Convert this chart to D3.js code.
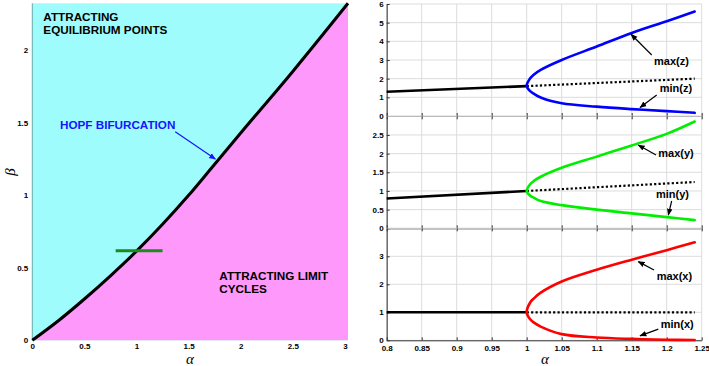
<!DOCTYPE html>
<html>
<head>
<meta charset="utf-8">
<script src="https://cdn.jsdelivr.net/npm/d3@7"></script>
<style>
    body { margin: 0; background: #fff; }
    svg { display: block; font-family: "Liberation Sans", Arial, sans-serif; }
    .tick text { font-size: 8px; font-weight: bold; fill: #000; }
    .note { font-size: 11.7px; font-weight: bold; }
    .note-sm { font-size: 11px; font-weight: bold; }
    .greek { font-family: "Liberation Serif", "DejaVu Serif", serif; font-style: italic; font-size: 15px; }
</style>
</head>
<body>
<svg id="chart"></svg>
<script>
// ---- left panel: Hopf curve in the (alpha, beta) plane ----
const hopfAlpha = [0, 0.25, 0.5, 0.75, 1.0, 1.25, 1.5, 1.75, 2.0, 2.5, 3.03];
const hopfBeta  = [0, 0.135, 0.285, 0.445, 0.615, 0.8, 1.0, 1.215, 1.43, 1.855, 2.325];
const slice = { alpha: [0.8, 1.25], beta: 0.618 };
const leftXTicks = [0, 0.5, 1, 1.5, 2, 2.5, 3];
const leftYTicks = [0, 0.5, 1, 1.5, 2];

// ---- right panels: bifurcation diagrams along the slice ----
const stableAlpha = [0.8, 1.0];
const unstableAlpha = [1.0, 1.24];
const branchAlpha = [1.0, 1.005, 1.01, 1.02, 1.05, 1.1, 1.15, 1.2, 1.24];

const zStable = [1.3, 1.6];
const zUnstable = [1.6, 2.0];
const zMax = [1.6, 2.02, 2.21, 2.47, 3.0, 3.72, 4.45, 5.08, 5.6];
const zMin = [1.6, 1.33, 1.2, 0.99, 0.68, 0.5, 0.37, 0.26, 0.17];

const yStable = [0.8, 1.0];
const yUnstable = [1.0, 1.24];
const yMax = [1.0, 1.18, 1.265, 1.38, 1.62, 1.92, 2.22, 2.53, 2.86];
const yMin = [1.0, 0.87, 0.82, 0.73, 0.62, 0.5, 0.4, 0.3, 0.22];

const xStable = [1.0, 1.0];
const xUnstable = [1.0, 1.0];
const xMax = [1.0, 1.35, 1.49, 1.7, 2.1, 2.52, 2.88, 3.22, 3.5];
const xMin = [1.0, 0.75, 0.64, 0.49, 0.22, 0.1, 0.05, 0.02, 0.01];

const rightXTicks = [0.8, 0.85, 0.9, 0.95, 1, 1.05, 1.1, 1.15, 1.2, 1.25];
const zTicks = [0, 1, 2, 3, 4, 5, 6];
const yTicks = [0, 0.5, 1, 1.5, 2, 2.5, 3];
const xTicks = [0, 1, 2, 3, 4];

(function () {
    const width = 709;
    const height = 366;

    const svg = d3.select("#chart")
        .attr("width", width)
        .attr("height", height);

    const defs = svg.append("defs");
    [["head-black", "#000"], ["head-blue", "#1515ff"]].forEach(([id, col]) => {
        defs.append("marker")
            .attr("id", id)
            .attr("viewBox", "0 0 10 10")
            .attr("refX", 9).attr("refY", 5)
            .attr("markerWidth", 7).attr("markerHeight", 7)
            .attr("markerUnits", "userSpaceOnUse")
            .attr("orient", "auto")
            .append("path")
            .attr("d", "M0,1 L10,5 L0,9 Z")
            .attr("fill", col);
    });

    // ================= left panel =================
    const lx = d3.scaleLinear().domain([0, 3.03]).range([32.3, 348]);
    const ly = d3.scaleLinear().domain([0, 2.325]).range([340.3, 3.3]);

    const hopf = hopfAlpha.map((a, i) => [a, hopfBeta[i]]);

    svg.append("rect")
        .attr("x", lx(0)).attr("y", ly(2.325))
        .attr("width", lx(3.03) - lx(0))
        .attr("height", ly(0) - ly(2.325))
        .attr("fill", "#9ffcfc");

    // below the Hopf curve: limit cycles
    svg.append("path")
        .datum(hopf)
        .attr("fill", "#ff98fb")
        .attr("d", d3.area()
            .x(d => lx(d[0]))
            .y0(ly(0))
            .y1(d => ly(d[1]))
            .curve(d3.curveMonotoneX));

    svg.append("line")
        .attr("x1", lx(0)).attr("x2", lx(0))
        .attr("y1", ly(0)).attr("y2", ly(2.325))
        .attr("stroke", "#6aa9a9").attr("stroke-width", 1);

    svg.append("path")
        .datum(hopf)
        .attr("fill", "none")
        .attr("stroke", "#000")
        .attr("stroke-width", 3)
        .attr("d", d3.line()
            .x(d => lx(d[0]))
            .y(d => ly(d[1]))
            .curve(d3.curveMonotoneX));

    svg.append("line")
        .attr("x1", lx(slice.alpha[0])).attr("x2", lx(slice.alpha[1]))
        .attr("y1", ly(slice.beta)).attr("y2", ly(slice.beta))
        .attr("stroke", "#1c8a1c").attr("stroke-width", 3);

    svg.append("g")
        .attr("transform", `translate(0,${ly(0) + 1})`)
        .call(d3.axisBottom(lx).tickValues(leftXTicks).tickSize(0).tickPadding(2).tickFormat(d3.format("~g")))
        .call(g => g.select(".domain").remove());

    svg.append("g")
        .attr("transform", `translate(${lx(0) - 1},0)`)
        .call(d3.axisLeft(ly).tickValues(leftYTicks).tickSize(0).tickPadding(3).tickFormat(d3.format("~g")))
        .call(g => g.select(".domain").remove());

    svg.append("text").attr("class", "greek")
        .attr("x", 190).attr("y", 364).attr("text-anchor", "middle").text("α");
    svg.append("text").attr("class", "greek")
        .attr("transform", "translate(15,172) rotate(-90)")
        .attr("text-anchor", "middle").text("β");

    const leftNotes = [
        { lines: ["ATTRACTING", "EQUILIBRIUM POINTS"], at: [0.106, 2.202], color: "#000" },
        { lines: ["HOPF BIFURCATION"], at: [0.266, 1.457], color: "#1515ff" },
        { lines: ["ATTRACTING LIMIT", "CYCLES"], at: [1.795, 0.416], color: "#000" }
    ];
    leftNotes.forEach(n => {
        const t = svg.append("text").attr("class", "note").attr("fill", n.color)
            .attr("x", lx(n.at[0])).attr("y", ly(n.at[1]));
        n.lines.forEach((s, i) => {
            t.append("tspan").attr("x", lx(n.at[0])).attr("dy", i ? 12.6 : 0).text(s);
        });
    });
    svg.append("line")
        .attr("x1", lx(1.372)).attr("y1", ly(1.439))
        .attr("x2", lx(1.757)).attr("y2", ly(1.25))
        .attr("stroke", "#1515ff").attr("stroke-width", 1.2)
        .attr("marker-end", "url(#head-blue)");

    // ================= right panels =================
    const rx = d3.scaleLinear().domain([0.8, 1.25]).range([386.7, 701.7]);

    const panels = [
        { top: 4, bottom: 116, max: 6, ticks: zTicks, hide: [], color: "#0000ff",
          stable: zStable, unstable: zUnstable, hi: zMax, lo: zMin,
          notes: [
            { text: "max(z)", at: [1.1819, 2.73], from: [1.1786, 3.27], to: [1.149, 4.38] },
            { text: "min(z)", at: [1.19, 1.3], from: [1.1857, 1.125], to: [1.1619, 0.45] }
          ] },
        { top: 116.3, bottom: 228.3, max: 3, ticks: yTicks, hide: [3], color: "#00ee00",
          stable: yStable, unstable: yUnstable, hi: yMax, lo: yMin,
          notes: [
            { text: "max(y)", at: [1.188, 1.918], from: [1.1847, 1.964], to: [1.1594, 2.23] },
            { text: "min(y)", at: [1.1847, 0.8], from: [1.2071, 0.731], to: [1.2023, 0.356] }
          ] },
        { top: 228.3, bottom: 340.3, max: 4, ticks: xTicks, hide: [4], color: "#ff0000",
          stable: xStable, unstable: xUnstable, hi: xMax, lo: xMin,
          notes: [
            { text: "max(x)", at: [1.1857, 2.15], from: [1.1819, 2.51], to: [1.1594, 2.81] },
            { text: "min(x)", at: [1.1914, 0.43], from: [1.188, 0.4], to: [1.1619, 0.16] }
          ] }
    ];

    panels.forEach((p, k) => {
        const ry = d3.scaleLinear().domain([0, p.max]).range([p.bottom, p.top]);
        const g = svg.append("g");

        // grid
        g.append("g").selectAll("line").data(rightXTicks).join("line")
            .attr("x1", d => rx(d)).attr("x2", d => rx(d))
            .attr("y1", p.top).attr("y2", p.bottom)
            .attr("stroke", "#dcdcdc").attr("stroke-width", 1);
        g.append("g").selectAll("line").data(p.ticks).join("line")
            .attr("x1", rx(0.8)).attr("x2", rx(1.25))
            .attr("y1", d => ry(d)).attr("y2", d => ry(d))
            .attr("stroke", "#dcdcdc").attr("stroke-width", 1);

        // axes, ticks pointing inward
        g.append("g")
            .attr("transform", `translate(0,${p.bottom})`)
            .call(d3.axisBottom(rx).tickValues(rightXTicks).tickSizeInner(-3).tickSizeOuter(0)
                .tickPadding(5).tickFormat(k === 2 ? d3.format("~g") : ""))
            .call(a => a.select(".domain").attr("stroke", "#333"))
            .call(a => a.selectAll(".tick line").attr("stroke", "#333"));
        if (k > 0) {
            g.append("g")
                .attr("transform", `translate(0,${p.top})`)
                .call(d3.axisTop(rx).tickValues(rightXTicks).tickSizeInner(-3).tickSizeOuter(0).tickFormat(""))
                .call(a => a.select(".domain").remove())
                .call(a => a.selectAll(".tick line").attr("stroke", "#333"));
        }
        g.append("g")
            .attr("transform", `translate(${rx(0.8)},0)`)
            .call(d3.axisLeft(ry).tickValues(p.ticks.filter(t => !p.hide.includes(t)))
                .tickSizeInner(-3).tickSizeOuter(0).tickPadding(3).tickFormat(d3.format("~g")))
            .call(a => a.select(".domain").attr("stroke", "#333"))
            .call(a => a.selectAll(".tick line").attr("stroke", "#333"));

        const line = d3.line().x(d => rx(d[0])).y(d => ry(d[1]));

        g.append("path")
            .datum(stableAlpha.map((a, i) => [a, p.stable[i]]))
            .attr("fill", "none").attr("stroke", "#000").attr("stroke-width", 2.6)
            .attr("d", line);

        g.append("path")
            .datum(unstableAlpha.map((a, i) => [a, p.unstable[i]]))
            .attr("fill", "none").attr("stroke", "#000").attr("stroke-width", 2.2)
            .attr("stroke-dasharray", "2.2,2.2")
            .attr("d", line);

        // limit cycle branch: max end -> Hopf point -> min end
        const branch = branchAlpha.map((a, i) => [a, p.hi[i]]).reverse()
            .concat(branchAlpha.slice(1).map((a, i) => [a, p.lo[i + 1]]));
        g.append("path")
            .datum(branch)
            .attr("fill", "none").attr("stroke", p.color).attr("stroke-width", 2.6)
            .attr("stroke-linecap", "round")
            .attr("d", line.curve(d3.curveCatmullRom.alpha(0.5)));

        p.notes.forEach(n => {
            g.append("text").attr("class", "note-sm")
                .attr("x", rx(n.at[0])).attr("y", ry(n.at[1])).text(n.text);
            g.append("line")
                .attr("x1", rx(n.from[0])).attr("y1", ry(n.from[1]))
                .attr("x2", rx(n.to[0])).attr("y2", ry(n.to[1]))
                .attr("stroke", "#000").attr("stroke-width", 1.2)
                .attr("marker-end", "url(#head-black)");
        });
    });

    svg.append("text").attr("class", "greek")
        .attr("x", 545).attr("y", 364).attr("text-anchor", "middle").text("α");
})();
</script>
</body>
</html>
